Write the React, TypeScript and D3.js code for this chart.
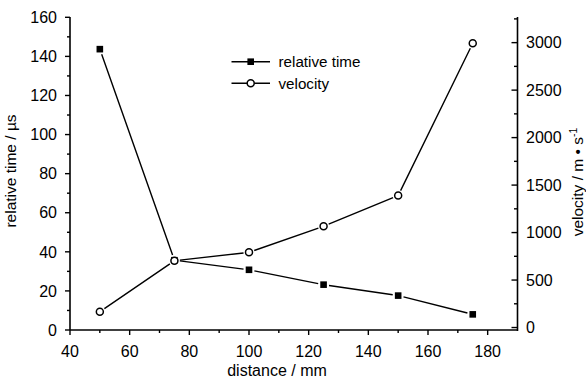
import React from "react";
import * as d3 from "d3";

const distances = [50, 75, 100, 125, 150, 175];
const relativeTime = [143.7, 35.7, 30.8, 23.2, 17.6, 8.0];
const velocity = [167, 703, 792, 1066, 1390, 2993];
const xTicks = [40, 60, 80, 100, 120, 140, 160, 180];
const yLeftTicks = [0, 20, 40, 60, 80, 100, 120, 140, 160];
const yRightTicks = [0, 500, 1000, 1500, 2000, 2500, 3000];
const legendLabels = ["relative time", "velocity"];

const W = 586;
const H = 380;
const FONT = "'Liberation Sans Narrow', 'Liberation Sans', Arial, Helvetica, sans-serif";

export default function App() {
  const x = d3.scaleLinear().domain([40, 190]).range([70, 517.5]);
  const yL = d3.scaleLinear().domain([0, 160]).range([330, 17.3]);
  const yR = d3.scaleLinear().domain([-26, 3270]).range([330, 17]);

  const xMinor = d3.range(50, 190, 20);
  const yLMinor = d3.range(10, 160, 20);
  const yRMinor = d3.range(250, 3270, 500);

  const gapSegs = (pts: [number, number][], gap: number) => {
    const segs: string[] = [];
    for (let i = 0; i < pts.length - 1; i++) {
      const [x1, y1] = pts[i];
      const [x2, y2] = pts[i + 1];
      const dx = x2 - x1, dy = y2 - y1;
      const len = Math.hypot(dx, dy);
      if (len <= 2 * gap) continue;
      const ux = dx / len, uy = dy / len;
      segs.push(`M${x1 + ux * gap},${y1 + uy * gap}L${x2 - ux * gap},${y2 - uy * gap}`);
    }
    return segs.join("");
  };

  const ptsT: [number, number][] = distances.map((d, i) => [x(d), yL(relativeTime[i])]);
  const ptsV: [number, number][] = distances.map((d, i) => [x(d), yR(velocity[i])]);

  const axisW = 1.6;
  const tickFont = 16;

  return (
    <svg width={W} height={H} style={{ position: "absolute", left: 0, top: 0, background: "#fff" }}
      fontFamily={FONT}>
      <line x1={70} x2={70} y1={17} y2={330} stroke="#000" strokeWidth={axisW} />
      <line x1={70} x2={517.5} y1={330} y2={330} stroke="#000" strokeWidth={axisW} />
      <line x1={517.5} x2={517.5} y1={17} y2={331} stroke="#000" strokeWidth={axisW} />

      {xTicks.map((t) => (
        <g key={"xt" + t}>
          <line x1={x(t)} x2={x(t)} y1={330} y2={335} stroke="#000" strokeWidth={1.4} />
          <text x={x(t)} y={357} fontSize={tickFont} textAnchor="middle" fill="#000">{t}</text>
        </g>
      ))}
      {xMinor.map((t) => (
        <line key={"xm" + t} x1={x(t)} x2={x(t)} y1={330} y2={333} stroke="#000" strokeWidth={1.4} />
      ))}

      {yLeftTicks.map((t) => (
        <g key={"yl" + t}>
          <line x1={65} x2={70} y1={yL(t)} y2={yL(t)} stroke="#000" strokeWidth={1.4} />
          <text x={57} y={yL(t)} dy="0.36em" fontSize={tickFont} textAnchor="end" fill="#000">{t}</text>
        </g>
      ))}
      {yLMinor.map((t) => (
        <line key={"ylm" + t} x1={67} x2={70} y1={yL(t)} y2={yL(t)} stroke="#000" strokeWidth={1.4} />
      ))}

      {yRightTicks.map((t) => (
        <g key={"yr" + t}>
          <line x1={511.5} x2={517.5} y1={yR(t)} y2={yR(t)} stroke="#000" strokeWidth={1.4} />
          <text x={526} y={yR(t)} dy="0.36em" fontSize={tickFont} textAnchor="start" fill="#000">{t}</text>
        </g>
      ))}
      {yRMinor.map((t) => (
        <line key={"yrm" + t} x1={514} x2={517.5} y1={yR(t)} y2={yR(t)} stroke="#000" strokeWidth={1.4} />
      ))}

      <text x={277} y={376} fontSize={16} textAnchor="middle" fill="#000">distance / mm</text>
      <text transform="translate(16,171) rotate(-90)" fontSize={15.5} textAnchor="middle" fill="#000">
        relative time / µs
      </text>
      <text transform="translate(583,182) rotate(-90)" fontSize={15.5} textAnchor="middle" fill="#000">
        velocity / m • s
        <tspan fontSize={10.5} dy={-6}>-1</tspan>
      </text>

      <path d={gapSegs(ptsT, 5.5)} fill="none" stroke="#000" strokeWidth={1.4} />
      <path d={gapSegs(ptsV, 5.5)} fill="none" stroke="#000" strokeWidth={1.4} />

      {ptsT.map(([px, py], i) => (
        <rect key={"sq" + i} x={px - 3.3} y={py - 3.3} width={6.6} height={6.6} fill="#000" />
      ))}
      {ptsV.map(([px, py], i) => (
        <circle key={"ci" + i} cx={px} cy={py} r={3.5} fill="#fff" stroke="#000" strokeWidth={1.5} />
      ))}

      <line x1={231.5} x2={270} y1={61.7} y2={61.7} stroke="#000" strokeWidth={1.4} />
      <rect x={250.7 - 3.3} y={61.7 - 3.3} width={6.6} height={6.6} fill="#000" />
      <text x={278.5} y={61.7} dy="0.36em" fontSize={15.2} fill="#000">{legendLabels[0]}</text>
      <line x1={231.5} x2={270} y1={83.3} y2={83.3} stroke="#000" strokeWidth={1.4} />
      <circle cx={250.7} cy={83.3} r={3.5} fill="#fff" stroke="#000" strokeWidth={1.5} />
      <text x={278.5} y={83.3} dy="0.36em" fontSize={15.2} fill="#000">{legendLabels[1]}</text>
    </svg>
  );
}
